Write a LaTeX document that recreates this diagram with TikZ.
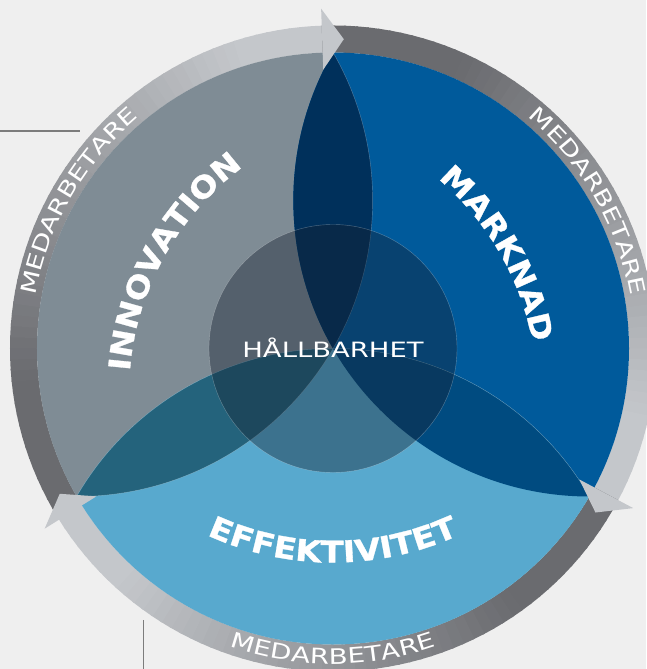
\documentclass[tikz,border=0pt]{standalone}
\usepackage{fontspec}
\usepackage{tikz}
\usetikzlibrary{decorations.text}

\newfontfamily\widefont{DejaVu Sans}[FakeStretch=1.3]
\newfontfamily\petalfont{DejaVu Sans}[FakeStretch=1.12, FakeBold=1]
\newcommand\ringstyle{\widefont\fontsize{15.2}{17}\selectfont\color{white}}
\newcommand\petalstyle{\petalfont\bfseries\fontsize{21.3}{24}\selectfont\color{white}}

\definecolor{paper}{HTML}{EFEFEF}
\definecolor{leadgray}{HTML}{7C7C7C}
\definecolor{ringdark}{HTML}{6A6B6F}
\definecolor{ringlight}{HTML}{C4C7CB}
\definecolor{innogray}{HTML}{7F8C95}
\definecolor{marknadblue}{HTML}{005A9B}
\definecolor{effblue}{HTML}{58A9CE}
\definecolor{lensIM}{HTML}{00305B}
\definecolor{lensME}{HTML}{004B80}
\definecolor{lensIE}{HTML}{24637C}
\definecolor{hubshade}{HTML}{142030}

\begin{document}
\begin{tikzpicture}[x=0.025cm, y=0.025cm,
	leader/.style={draw=leadgray, line width=1pt},
	seam/.style={draw=white, opacity=0.3, line width=0.3pt},
	hub/.style={font=\widefont\fontsize{15}{17}\selectfont, text=white, inner sep=0},
	ringtext/.style={decorate, decoration={text along path, text align=center, text={|\ringstyle|MEDARBETARE}}},
	petaltext/.style={decorate, decoration={text along path, text align=center, text={|\petalstyle|#1}}}
]
\useasboundingbox (-333,-320.5) rectangle (313,348.5);
\fill[paper] (-333,-320.5) rectangle (313,348.5);

\coordinate (leadW) at (-333,217.5);
\coordinate (leadWend) at (-253,217.5);
\coordinate (leadS) at (-189.7,-271.5);
\coordinate (leadSend) at (-189.7,-320.5);
\draw[leader] (leadW) -- (leadWend);
\draw[leader] (leadS) -- (leadSend);

% ring arrows, shaded from tail to head
\foreach \t in {210,90,-30}{
	\foreach \i in {0,...,59}{
		\pgfmathsetmacro\a{\t+2-2*\i}
		\pgfmathtruncatemacro\p{100*max(0,min(1,((2*\i-1)/120-0.2)/0.65))}
		\fill[ringlight!\p!ringdark] (\a:323) arc[start angle=\a, end angle=\a-2.4, radius=323]
			-- (\a-2.4:296) arc[start angle=\a-2.4, end angle=\a, radius=296] -- cycle;
	}
}

\begin{scope}
	\clip (0,0) circle[radius=296];
	\fill[innogray] (150:296) circle[radius=296];
	\fill[marknadblue] (30:296) circle[radius=296];
	\fill[effblue] (270:296) circle[radius=296];
	\begin{scope}
		\clip (150:296) circle[radius=296];
		\fill[lensIM] (30:296) circle[radius=296];
	\end{scope}
	\begin{scope}
		\clip (30:296) circle[radius=296];
		\fill[lensME] (270:296) circle[radius=296];
	\end{scope}
	\begin{scope}
		\clip (270:296) circle[radius=296];
		\fill[lensIE] (150:296) circle[radius=296];
	\end{scope}
	\draw[seam] (150:296) circle[radius=296];
	\draw[seam] (270:296) circle[radius=296];
\end{scope}

\fill[hubshade, opacity=0.4] (0,0) circle[radius=124];
\draw[seam] (0,0) circle[radius=124];
\node[hub] (hub) at (0,1) {HÅLLBARHET};

\foreach \h in {90,-30,210}
	\fill[ringlight] (\h+2:279) -- (\h+2:340) -- (\h-2:309.5) -- cycle;

\path[ringtext] (190:302) arc[start angle=190, end angle=110, radius=302];
\path[ringtext] (70:302) arc[start angle=70, end angle=-10, radius=302];
\path[ringtext] (230:315.5) arc[start angle=230, end angle=310, radius=315.5];

\begin{scope}[shift={(330:89)}]
	\path[petaltext=INNOVATION] (196:281) arc[start angle=196, end angle=106, radius=281];
\end{scope}
\begin{scope}[shift={(210:89)}]
	\path[petaltext=MARKNAD] (75:281) arc[start angle=75, end angle=-15, radius=281];
\end{scope}
\begin{scope}[shift={(90:89)}]
	\path[petaltext=EFFEKTIVITET] (220:303) arc[start angle=220, end angle=320, radius=303];
\end{scope}
\end{tikzpicture}
\end{document}
